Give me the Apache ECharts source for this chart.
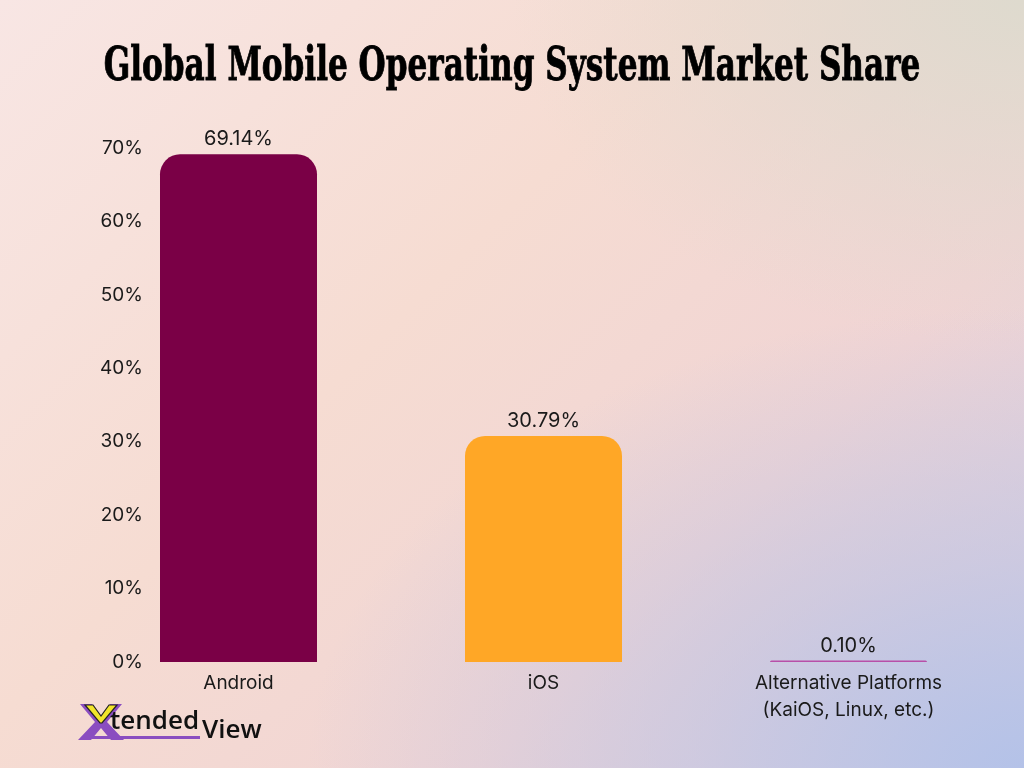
<!DOCTYPE html>
<html>
<head>
<meta charset="utf-8">
<title>Global Mobile Operating System Market Share</title>
<script src="https://cdn.jsdelivr.net/npm/echarts@6/dist/echarts.min.js"></script>
<style>
    html, body {
        margin: 0;
        padding: 0;
        width: 1024px;
        height: 768px;
        overflow: hidden;
    }
    body {
        background:
            radial-gradient(ellipse 70% 60% at 100% 100%, rgba(180, 194, 232, 1) 0%, rgba(190, 196, 228, 0.6) 45%, rgba(200, 200, 230, 0) 100%),
            radial-gradient(ellipse 50% 45% at 100% 0%, rgba(222, 218, 206, 1) 0%, rgba(226, 216, 206, 0) 100%),
            linear-gradient(135deg, #f8e6e4 0%, #f6dcd2 40%, #f0d4d4 70%, #d8cfe0 100%);
    }
    #chart {
        width: 1024px;
        height: 768px;
    }
</style>
</head>
<body>
<div id="chart"></div>
<script>
const FONT_FAMILY = 'Inter, "Noto Sans", sans-serif';

const categories = ['Android', 'iOS', 'Alternative Platforms\n(KaiOS, Linux, etc.)'];
const shareValues = [69.14, 30.79, 0.10];
const barColors = ['#7a0046', '#ffa726', '#b84fa8'];
const yTicks = [0, 10, 20, 30, 40, 50, 60, 70];

const chart = echarts.init(document.getElementById('chart'));

chart.setOption({
    backgroundColor: 'transparent',
    animation: false,
    textStyle: { fontFamily: FONT_FAMILY },
    grid: {
        left: 86,
        right: 23,
        top: 148,
        bottom: 106
    },
    xAxis: {
        type: 'category',
        data: categories,
        axisLine: { show: false },
        axisTick: { show: false },
        axisLabel: {
            color: '#1a1a1a',
            fontSize: 19,
            lineHeight: 27,
            margin: 8,
            fontFamily: FONT_FAMILY
        }
    },
    yAxis: {
        type: 'value',
        min: yTicks[0],
        max: yTicks[yTicks.length - 1],
        interval: 10,
        splitLine: { show: false },
        axisLine: { show: false },
        axisTick: { show: false },
        axisLabel: {
            color: '#1a1a1a',
            fontSize: 19,
            margin: -57,
            fontFamily: FONT_FAMILY,
            formatter: (v) => v + '%'
        }
    },
    series: [{
        type: 'bar',
        barWidth: 157,
        barMinHeight: 1.5,
        data: shareValues.map((v, i) => ({
            value: v,
            itemStyle: { color: barColors[i] }
        })),
        itemStyle: {
            borderRadius: [20, 20, 0, 0]
        },
        label: {
            show: true,
            position: 'top',
            distance: 5,
            color: '#1a1a1a',
            fontSize: 20,
            fontFamily: FONT_FAMILY,
            formatter: (p) => p.value.toFixed(2) + '%'
        }
    }],
    graphic: [
        {
            type: 'text',
            left: 'center',
            top: 45,
            scaleX: 0.752,
            originX: 512,
            style: {
                text: 'Global Mobile Operating System Market Share',
                font: 'bold 46px "DejaVu Serif Condensed", "DejaVu Serif", serif',
                fill: '#000',
                stroke: '#000',
                lineWidth: 0.8
            }
        },
        // brand mark, bottom left
        {
            type: 'group',
            left: 78,
            top: 704,
            children: [
                {
                    type: 'polygon',
                    shape: { points: [[0, 0], [12, 0], [21, 13], [30, 0], [42, 0], [27, 18], [44, 36], [31, 36], [21, 24], [11, 36], [-2, 36], [15, 18]] },
                    style: { fill: '#8a4dc0' }
                },
                {
                    type: 'polygon',
                    shape: { points: [[5, 1], [13, 1], [21, 12], [29, 1], [37, 1], [22, 19], [20, 19]] },
                    style: { fill: '#f2e52a', stroke: '#222', lineWidth: 1.2 }
                },
                {
                    type: 'rect',
                    shape: { x: 12, y: 32, width: 108, height: 3 },
                    style: { fill: '#8a4dc0' }
                },
                {
                    type: 'text',
                    x: 30,
                    y: 5,
                    style: { text: 'tended', font: '600 26px "Open Sans", "Noto Sans", sans-serif', fill: '#111' }
                },
                {
                    type: 'text',
                    x: 122,
                    y: 14,
                    style: { text: 'View', font: '600 26px "Open Sans", "Noto Sans", sans-serif', fill: '#111' }
                }
            ]
        }
    ]
});
</script>
</body>
</html>
